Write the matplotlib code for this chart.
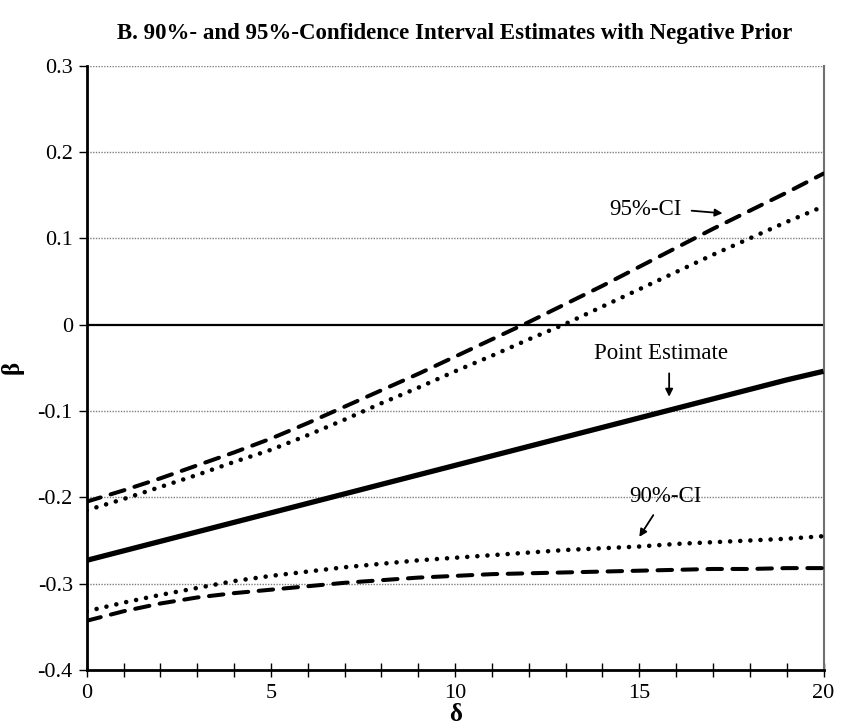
import numpy as np
import matplotlib
matplotlib.use("Agg")
import matplotlib.pyplot as plt

plt.rcParams["font.family"] = ["Liberation Serif", "DejaVu Serif"]

delta = list(range(0, 21))

point_est = [-0.273, -0.262, -0.251, -0.240, -0.229, -0.218, -0.207, -0.196, -0.185, -0.174,
             -0.163, -0.152, -0.141, -0.130, -0.119, -0.108, -0.097, -0.086, -0.075, -0.064, -0.054]

ci95_upper = [-0.205, -0.192, -0.178, -0.163, -0.148, -0.132, -0.114, -0.095, -0.076, -0.057,
              -0.037, -0.017, 0.003, 0.024, 0.045, 0.067, 0.089, 0.111, 0.132, 0.153, 0.175]
ci95_lower = [-0.343, -0.332, -0.323, -0.316, -0.311, -0.307, -0.303, -0.299, -0.296, -0.293,
              -0.291, -0.289, -0.288, -0.287, -0.286, -0.285, -0.284, -0.283, -0.283, -0.282, -0.282]

ci90_upper = [-0.215, -0.202, -0.188, -0.174, -0.159, -0.145, -0.128, -0.110, -0.091, -0.073,
              -0.054, -0.036, -0.017, 0.001, 0.021, 0.041, 0.061, 0.081, 0.100, 0.119, 0.137]
ci90_lower = [-0.332, -0.322, -0.313, -0.305, -0.297, -0.291, -0.286, -0.281, -0.277, -0.273,
              -0.270, -0.267, -0.264, -0.261, -0.259, -0.257, -0.254, -0.252, -0.250, -0.248, -0.245]

y_ticks = [-0.4, -0.3, -0.2, -0.1, 0, 0.1, 0.2, 0.3]
y_labels = ["-0.4", "-0.3", "-0.2", "-0.1", "0", "0.1", "0.2", "0.3"]
x_ticks = [0, 5, 10, 15, 20]

fig = plt.figure(figsize=(8.41, 7.28), dpi=100)
ax = fig.add_axes([0.1031, 0.0797, 0.8761, 0.8301])

# gridlines
for g in [0.3, 0.2, 0.1, -0.1, -0.2, -0.3]:
    ax.axhline(g, color="#7f7f7f", lw=1.0, ls=(0, (1, 1)), zorder=1)
ax.axhline(0, color="black", lw=1.6, zorder=2)

dash = (0, (3.6, 2.6))
dot = (0, (0.01, 2.2))
ax.plot(delta, ci95_upper, color="black", lw=2.9, ls=dash, dash_capstyle="round", zorder=3)
ax.plot(delta, ci95_lower, color="black", lw=2.9, ls=dash, dash_capstyle="round", zorder=3)
ax.plot(delta, ci90_upper, color="black", lw=3.3, ls=dot, dash_capstyle="round", zorder=3)
ax.plot(delta, ci90_lower, color="black", lw=3.3, ls=dot, dash_capstyle="round", zorder=3)
ax.plot(delta, point_est, color="black", lw=3.8, solid_capstyle="butt", zorder=4)

ax.set_xlim(0, 20)
ax.set_ylim(-0.4, 0.3)
ax.set_xticks(x_ticks)
ax.set_xticks(range(0, 21), minor=True)
ax.set_yticks(y_ticks)
ax.set_yticklabels(y_labels)

ax.tick_params(axis="x", which="both", direction="inout", length=10, width=1.0,
               labelsize=16, pad=5)
ax.tick_params(axis="y", direction="out", length=6, width=1.0, labelsize=16, pad=4)

ax.spines["left"].set_linewidth(2.0)
ax.spines["bottom"].set_linewidth(2.0)
ax.spines["top"].set_visible(False)
ax.spines["right"].set_color("#707070")
ax.spines["right"].set_linewidth(1.5)

ax.set_xlabel("δ", fontsize=18, fontweight="bold", labelpad=0)
ax.set_ylabel("β", fontsize=18, fontweight="bold", labelpad=10)

ax.set_title("B. 90%- and 95%-Confidence Interval Estimates with Negative Prior",
             fontsize=16.5, fontweight="bold", pad=19)

# annotations
arrow = dict(arrowstyle="-|>", color="black", lw=1.3, mutation_scale=11, shrinkA=0, shrinkB=0)
ax.annotate("", xy=(17.26, 0.129), xytext=(16.42, 0.132), arrowprops=arrow)
ax.text(15.17, 0.1336, "95%-CI", fontsize=16.5, ha="center", va="center")

ax.annotate("", xy=(15.81, -0.0835), xytext=(15.81, -0.0564), arrowprops=arrow)
ax.text(15.59, -0.0333, "Point Estimate", fontsize=16.5, ha="center", va="center")

ax.annotate("", xy=(15.0, -0.2458), xytext=(15.38, -0.2206), arrowprops=arrow)
ax.text(15.71, -0.1994, "90%-CI", fontsize=16.5, ha="center", va="center")

fig.savefig("out.png", dpi=100)
